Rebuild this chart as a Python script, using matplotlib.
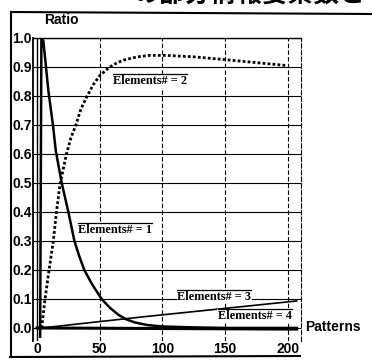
import matplotlib
matplotlib.use("Agg")
import matplotlib.pyplot as plt
from matplotlib.lines import Line2D

# data
e1_x = [2.5, 3.5, 5.0, 6.0, 9.0, 12.7, 15.0, 19.7, 25.0, 29.8, 33.5, 37.7, 44.0, 51.5, 58.0, 65.0, 71.0, 78.0, 88.0, 100.0, 125.0, 150.0, 207.0]
e1_y = [-0.03, 1.0, 0.99, 0.95, 0.82, 0.70, 0.61, 0.50, 0.40, 0.30, 0.25, 0.20, 0.15, 0.10, 0.07, 0.045, 0.03, 0.019, 0.01, 0.005, 0.002, 0.0, 0.0]

e2_x = [3.7, 6.4, 9.6, 13.0, 15.5, 18.5, 23.5, 27.0, 31.0, 35.0, 40.0, 45.0, 50.0, 58.0, 64.0, 70.0, 80.0, 90.0, 103.0, 125.0, 151.0, 175.0, 199.0]
e2_y = [0.0, 0.10, 0.20, 0.30, 0.40, 0.50, 0.60, 0.655, 0.70, 0.755, 0.80, 0.84, 0.87, 0.90, 0.915, 0.925, 0.935, 0.94, 0.94, 0.935, 0.925, 0.915, 0.905]

e3_x = [3.7, 86.0, 207.0]
e3_y = [0.0, 0.039, 0.093]

e4_x = [0.0, 207.0]
e4_y = [0.0, -0.004]

x_ticks = [0, 50, 100, 150, 200]
y_ticks = [0.0, 0.1, 0.2, 0.3, 0.4, 0.5, 0.6, 0.7, 0.8, 0.9, 1.0]

labels = ["Elements# = 1", "Elements# = 2", "Elements# = 3", "Elements# = 4"]
label_pos = [(32.7, 0.338), (60.6, 0.852), (112.0, 0.108), (144.0, 0.04)]

W, H = 372, 362
fig = plt.figure(figsize=(W / 100, H / 100), dpi=100)
ax = fig.add_axes([33 / W, 1 - 341 / H, 268 / W, 303 / H])

# grid
for yv in y_ticks:
    ax.axhline(yv, color="black", lw=0.8, zorder=1)
ax.axvline(0, color="black", lw=1.0, zorder=1)
for xv in x_ticks[1:]:
    ax.axvline(xv, color="black", lw=0.8, ls=(0, (4, 2)), zorder=1)

# curves
ax.plot(e4_x, e4_y, color="black", lw=2.2, zorder=3)
ax.plot(e3_x, e3_y, color="black", lw=1.2, zorder=3)
ax.plot(e2_x, e2_y, color="black", lw=2.0, ls=(0, (1, 0.8)), zorder=3)
ax.plot(e1_x, e1_y, color="black", lw=1.8, zorder=3, solid_joinstyle="round")

texts = []
for lab, (lx, ly) in zip(labels, label_pos):
    t = ax.text(lx, ly, lab, family="Liberation Serif", fontweight="bold", fontsize=8.8,
                va="center", ha="left", zorder=5,
                bbox=dict(facecolor="white", edgecolor="none", pad=0.6))
    texts.append(t)

ax.set_xlim(-3.2, 210.5)
ax.set_ylim(-0.045, 1.0)
ax.set_xticks(x_ticks)
ax.set_yticks(y_ticks)
ax.set_yticklabels([f"{v:.1f}" for v in y_ticks])
ax.tick_params(length=0, labelsize=10, pad=1)
for lbl in ax.get_xticklabels() + ax.get_yticklabels():
    lbl.set_family("Liberation Sans")
    lbl.set_fontweight("bold")

ax.spines["bottom"].set_visible(False)
ax.spines["left"].set_linewidth(1.3)
ax.spines["top"].set_linewidth(1.0)
ax.spines["right"].set_linewidth(0.8)
ax.spines["right"].set_linestyle((0, (4, 2)))

fig.text(61 / W, 1 - 20 / H, "Ratio", family="Liberation Sans", fontweight="bold",
         fontsize=10, ha="center", va="center")
fig.text(305 / W, 1 - 327 / H, "Patterns", family="Liberation Sans", fontweight="bold",
         fontsize=10, ha="left", va="center")

# cut-off caption at the top of the scan
fig.text(133 / W, 1 + 5.5 / H, "の部分情報要素数と", family=["Noto Sans CJK JP", "DejaVu Sans"],
         fontweight="bold", fontsize=18.5, ha="left", va="center")

# outer frame of the scanned figure
fig.add_artist(Line2D([11 / W, 11 / W], [1 - 12 / H, 1 - 357 / H], color="black", lw=1.5))
fig.add_artist(Line2D([11 / W, 1.0], [1 - 12 / H, 1 - 14 / H], color="black", lw=1.5))
fig.add_artist(Line2D([10 / W, 300 / W], [1 - 357 / H, 1 - 356 / H], color="black", lw=1.5))

# overline on top of each curve label
fig.canvas.draw()
r = fig.canvas.get_renderer()
for t in texts:
    bb = t.get_window_extent(renderer=r)
    x0, y1 = ax.transData.inverted().transform((bb.x0, bb.y1 + 1))
    x1, _ = ax.transData.inverted().transform((bb.x1, bb.y1 + 1))
    ax.plot([x0, x1], [y1, y1], color="black", lw=0.9, zorder=6)

fig.savefig("out.png", dpi=100)
